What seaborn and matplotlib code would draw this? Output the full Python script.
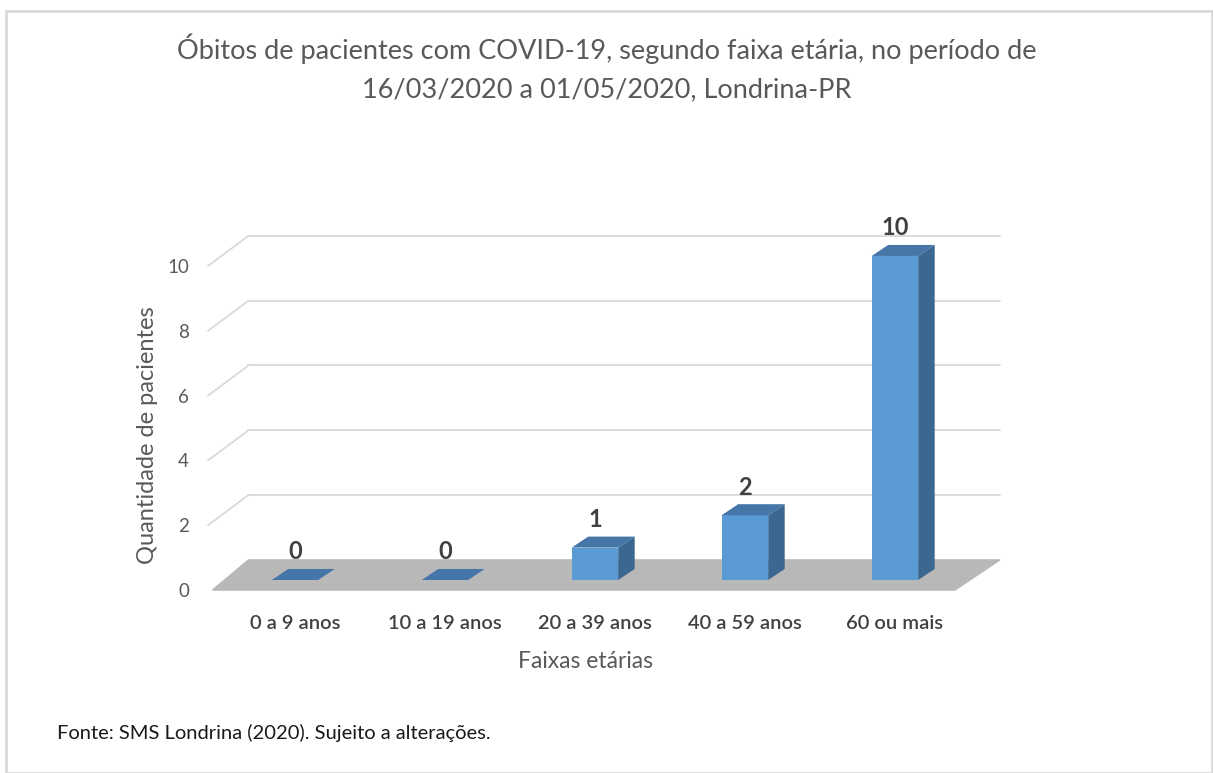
"""Óbitos de pacientes com COVID-19 por faixa etária (Londrina-PR), estilo barra 3D do Excel."""

import matplotlib

matplotlib.use("Agg")

import matplotlib.pyplot as plt
from matplotlib.patches import Polygon, Rectangle
import seaborn as sns

sns.set_theme(style="white")
plt.rcParams["font.family"] = ["Lato", "DejaVu Sans"]

faixas = ["0 a 9 anos", "10 a 19 anos", "20 a 39 anos", "40 a 59 anos", "60 ou mais"]
obitos = [0, 0, 1, 2, 10]
marcas_y = [0, 2, 4, 6, 8, 10]

COR_FRENTE = "#5b9bd5"
COR_LADO = "#3a6890"
COR_TOPO = "#4676a8"
COR_CHAO = "#b8b8b8"
COR_GRADE = "#d9d9d9"
COR_TEXTO = "#595959"

# profundidade do "chão" e das barras (unidades de dados)
CHAO_DX, CHAO_DY = 0.24, 0.93
FRENTE = -0.31  # plano frontal do chão (rótulos do eixo y)
BARRA_DX, BARRA_DY = 0.11, 0.34

fig = plt.figure(figsize=(12.13, 7.73), dpi=100)
fig.patches.append(Rectangle((6 / 1213, 0), 1 - 7 / 1213, 1 - 11 / 773, transform=fig.transFigure,
                             fill=False, edgecolor=COR_GRADE, linewidth=2))
ax = fig.add_axes([200 / 1213, 173 / 773, 810 / 1213, 380 / 773])

sns.barplot(x=faixas, y=obitos, color=COR_FRENTE, saturation=1, width=0.31, ax=ax,
            linewidth=0, edgecolor="none", zorder=4)

n = len(faixas)
esq, dir_ = -0.55, n - 1 + 0.4

# grade: parede do fundo + diagonal da parede lateral
for v in marcas_y[1:]:
    y0 = v + FRENTE
    ax.plot([esq + CHAO_DX, dir_ + CHAO_DX + 0.06], [y0 + CHAO_DY] * 2, color=COR_GRADE, lw=1.3, zorder=1)
    ax.plot([esq - 0.03, esq + CHAO_DX], [y0, y0 + CHAO_DY], color=COR_GRADE, lw=1.3, zorder=1)

# chão
ax.add_patch(Polygon([(esq, FRENTE), (dir_, FRENTE), (dir_ + CHAO_DX + 0.06, FRENTE + CHAO_DY),
                      (esq + CHAO_DX, FRENTE + CHAO_DY)], closed=True, color=COR_CHAO, zorder=2))

# faces laterais e de topo de cada barra
for barra, valor in zip(ax.patches, obitos):
    x0, w, h = barra.get_x(), barra.get_width(), barra.get_height()
    ax.add_patch(Polygon([(x0, h), (x0 + w, h), (x0 + w + BARRA_DX, h + BARRA_DY),
                          (x0 + BARRA_DX, h + BARRA_DY)], closed=True, color=COR_TOPO, lw=0, zorder=5))
    if h > 0:
        ax.add_patch(Polygon([(x0 + w, 0), (x0 + w + BARRA_DX, BARRA_DY), (x0 + w + BARRA_DX, h + BARRA_DY),
                              (x0 + w, h)], closed=True, color=COR_LADO, lw=0, zorder=5))
    ax.text(x0 + w / 2, h + BARRA_DY + 0.17, f"{valor}", ha="center", va="bottom",
            fontsize=17, fontweight="bold", color="#404040", zorder=6)

ax.set_xlim(-0.633, 4.767)
ax.set_ylim(-0.617, 11.11)
ax.set_yticks([v + FRENTE for v in marcas_y], [str(v) for v in marcas_y])
ax.tick_params(axis="y", length=0, pad=8, labelsize=13.5, labelcolor=COR_TEXTO)
ax.tick_params(axis="x", length=0, pad=11, labelsize=14.5, labelcolor="#404040")
for rotulo in ax.get_xticklabels():
    rotulo.set_fontweight("semibold")
for lado in ax.spines.values():
    lado.set_visible(False)
ax.set_xlabel("")
ax.set_ylabel("")

fig.text(148 / 1213, 1 - 435 / 773, "Quantidade de pacientes", rotation=90, ha="center", va="center",
         fontsize=17, color=COR_TEXTO)
fig.text(586 / 1213, 1 - 662 / 773, "Faixas etárias", ha="center", va="center", fontsize=16.5, color=COR_TEXTO)
fig.text(607 / 1213, 1 - 68 / 773,
         "Óbitos de pacientes com COVID-19, segundo faixa etária, no período de\n"
         "16/03/2020 a 01/05/2020, Londrina-PR",
         ha="center", va="center", fontsize=19.5, color=COR_TEXTO, linespacing=1.7)
fig.text(57 / 1213, 1 - 733 / 773, "Fonte: SMS Londrina (2020). Sujeito a alterações.",
         ha="left", va="center", fontsize=14.5, color="#1a1a1a")

fig.savefig("out.png", dpi=100)
